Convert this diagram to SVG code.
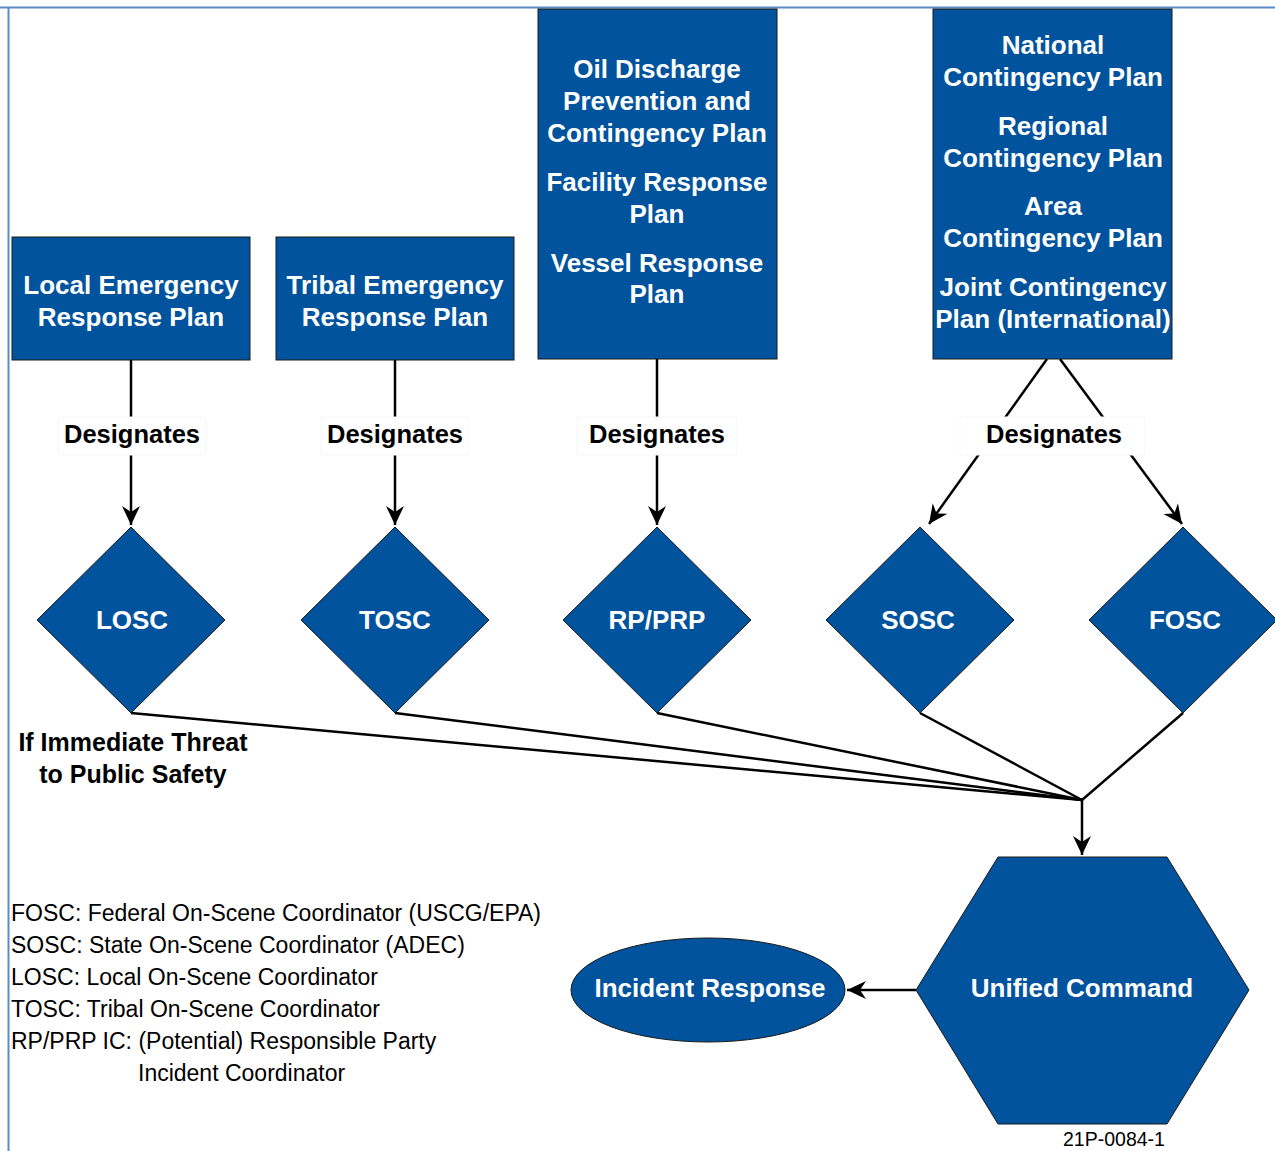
<svg xmlns="http://www.w3.org/2000/svg" width="1275" height="1151" viewBox="0 0 1275 1151">
<style>
.node{fill:#01539d;stroke:#1a1a1a;stroke-width:1}
.nt{font-family:"Liberation Sans",Arial,sans-serif;font-weight:bold;font-size:26px;fill:#ffffff;text-anchor:middle}
.lbl{font-family:"Liberation Sans",Arial,sans-serif;font-weight:bold;font-size:25.5px;fill:#000000;text-anchor:middle}
.thr{font-family:"Liberation Sans",Arial,sans-serif;font-weight:bold;font-size:25px;fill:#000000;text-anchor:middle}
.leg{font-family:"Liberation Sans",Arial,sans-serif;font-size:23px;fill:#000000}
.con{stroke:#000000;stroke-width:2.5;fill:none}
.bg{fill:#ffffff;stroke:#f8f8f8;stroke-width:1}
</style>
<defs>
<marker id="arr" markerUnits="userSpaceOnUse" viewBox="-20 -10 22 20" refX="0" refY="0" markerWidth="22" markerHeight="20" orient="auto">
<path d="M0,0 L-19,-9 L-13,0 L-19,9 Z" fill="#000000"/>
</marker>
</defs>
<rect width="1275" height="1151" fill="#ffffff"/>
<g id="frame">
<line x1="0" y1="7.5" x2="1275" y2="7.5" stroke="#5a8ccc" stroke-width="2"/>
<line x1="8.5" y1="7" x2="8.5" y2="1151" stroke="#5a8ccc" stroke-width="2"/>
</g>
<g id="connectors">
<line class="con" x1="131" y1="360" x2="131" y2="525" marker-end="url(#arr)"/>
<line class="con" x1="395" y1="360" x2="395" y2="525" marker-end="url(#arr)"/>
<line class="con" x1="657" y1="359" x2="657" y2="525" marker-end="url(#arr)"/>
<line class="con" x1="1047" y1="359" x2="929" y2="524" marker-end="url(#arr)"/>
<line class="con" x1="1060" y1="359" x2="1182" y2="524" marker-end="url(#arr)"/>
<polyline class="con" points="131,713 1082,800"/>
<polyline class="con" points="395,713 1082,800"/>
<polyline class="con" points="657,713 1082,800"/>
<polyline class="con" points="920,713 1082,800"/>
<polyline class="con" points="1183,713 1082,800"/>
<line class="con" x1="1082" y1="800" x2="1082" y2="855" marker-end="url(#arr)"/>
<line class="con" x1="916" y1="990" x2="847" y2="990" marker-end="url(#arr)"/>
</g>
<g id="labels">
<rect class="bg" x="58" y="417" width="148" height="38"/>
<text class="lbl" x="132" y="443">Designates</text>
<rect class="bg" x="321" y="417" width="148" height="38"/>
<text class="lbl" x="395" y="443">Designates</text>
<rect class="bg" x="577" y="417" width="160" height="38"/>
<text class="lbl" x="657" y="443">Designates</text>
<rect class="bg" x="960" y="417" width="185" height="38"/>
<text class="lbl" x="1054" y="443">Designates</text>
<text class="thr" x="133" y="751">If Immediate Threat</text>
<text class="thr" x="133" y="783">to Public Safety</text>
</g>
<g id="local-plan">
<rect class="node" x="12" y="237" width="238" height="123"/>
<text class="nt" x="131" y="294">Local Emergency</text>
<text class="nt" x="131" y="326">Response Plan</text>
</g>
<g id="tribal-plan">
<rect class="node" x="276" y="237" width="238" height="123"/>
<text class="nt" x="395" y="294">Tribal Emergency</text>
<text class="nt" x="395" y="326">Response Plan</text>
</g>
<g id="oil-plan">
<rect class="node" x="538" y="9" width="239" height="350"/>
<text class="nt" x="657" y="78">Oil Discharge</text>
<text class="nt" x="657" y="110">Prevention and</text>
<text class="nt" x="657" y="142">Contingency Plan</text>
<text class="nt" x="657" y="191">Facility Response</text>
<text class="nt" x="657" y="223">Plan</text>
<text class="nt" x="657" y="272">Vessel Response</text>
<text class="nt" x="657" y="303">Plan</text>
</g>
<g id="national-plan">
<rect class="node" x="933" y="9" width="239" height="350"/>
<text class="nt" x="1053" y="54">National</text>
<text class="nt" x="1053" y="86">Contingency Plan</text>
<text class="nt" x="1053" y="135">Regional</text>
<text class="nt" x="1053" y="167">Contingency Plan</text>
<text class="nt" x="1053" y="215">Area</text>
<text class="nt" x="1053" y="247">Contingency Plan</text>
<text class="nt" x="1053" y="296">Joint Contingency</text>
<text class="nt" x="1053" y="328">Plan (International)</text>
</g>
<g id="losc">
<polygon class="node" points="131,527 225,620 131,713 37,620"/>
<text class="nt" x="132" y="629">LOSC</text>
</g>
<g id="tosc">
<polygon class="node" points="395,527 489,620 395,713 301,620"/>
<text class="nt" x="395" y="629">TOSC</text>
</g>
<g id="rpprp">
<polygon class="node" points="657,527 751,620 657,713 563,620"/>
<text class="nt" x="657" y="629">RP/PRP</text>
</g>
<g id="sosc">
<polygon class="node" points="920,527 1014,620 920,713 826,620"/>
<text class="nt" x="918" y="629">SOSC</text>
</g>
<g id="fosc">
<polygon class="node" points="1183,527 1277,620 1183,713 1089,620"/>
<text class="nt" x="1185" y="629">FOSC</text>
</g>
<g id="unified-command">
<polygon class="node" points="998,857 1167,857 1249,990 1167,1124 998,1124 916,990"/>
<text class="nt" x="1082" y="997">Unified Command</text>
</g>
<g id="incident-response">
<ellipse class="node" cx="708" cy="990" rx="137" ry="52"/>
<text class="nt" x="710" y="997">Incident Response</text>
</g>
<g id="legend">
<text class="leg" x="11" y="921">FOSC: Federal On-Scene Coordinator (USCG/EPA)</text>
<text class="leg" x="11" y="953">SOSC: State On-Scene Coordinator (ADEC)</text>
<text class="leg" x="11" y="985">LOSC: Local On-Scene Coordinator</text>
<text class="leg" x="11" y="1017">TOSC: Tribal On-Scene Coordinator</text>
<text class="leg" x="11" y="1049">RP/PRP IC: (Potential) Responsible Party</text>
<text class="leg" x="138" y="1081">Incident Coordinator</text>
<text x="1063" y="1146" style="font-family:'Liberation Sans',Arial,sans-serif;font-size:19.5px;fill:#000">21P-0084-1</text>
</g>
</svg>
